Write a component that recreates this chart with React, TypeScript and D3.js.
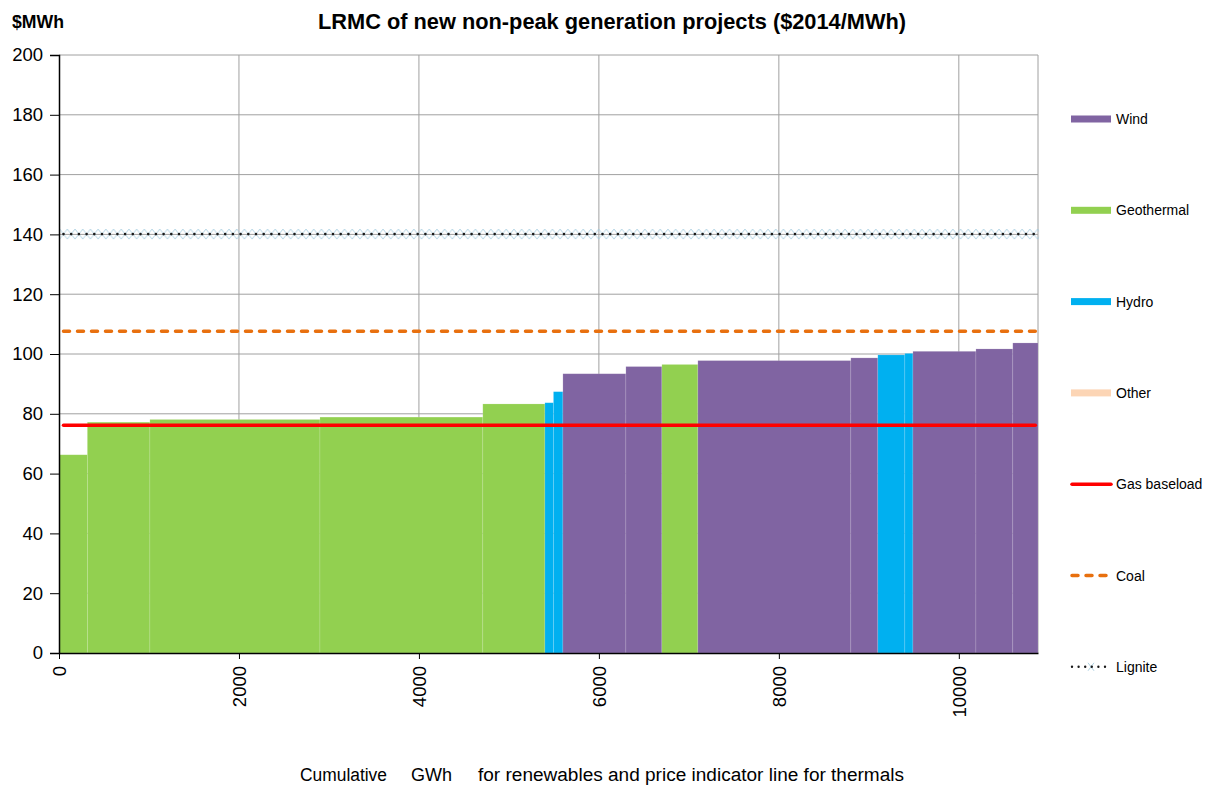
import * as d3 from 'd3';
import { useRef, useEffect } from 'react';

// supply curve blocks (cumulative GWh at block end, LRMC $/MWh)
const blockTech = ['Geothermal', 'Geothermal', 'Geothermal', 'Geothermal', 'Geothermal', 'Hydro', 'Hydro', 'Wind', 'Wind', 'Geothermal', 'Wind', 'Wind', 'Hydro', 'Hydro', 'Wind', 'Wind', 'Wind'];
const blockEnd = [315, 1010, 2900, 4710, 5400, 5495, 5600, 6300, 6700, 7100, 8800, 9100, 9400, 9490, 10190, 10600, 10880];
const blockCost = [66.3, 77.2, 78.1, 78.9, 83.3, 83.7, 87.4, 93.4, 95.8, 96.5, 97.8, 98.7, 99.7, 100.2, 100.9, 101.7, 103.7];

// thermal price indicator lines
const thermalNames = ['Gas baseload', 'Coal', 'Lignite'];
const thermalPrice = [76.2, 107.6, 140.1];
const thermalSpan = [50, 10850];

const legendNames = ['Wind', 'Geothermal', 'Hydro', 'Other', 'Gas baseload', 'Coal', 'Lignite'];
const yTicks = [0, 20, 40, 60, 80, 100, 120, 140, 160, 180, 200];
const xTicks = [0, 2000, 4000, 6000, 8000, 10000];

const colors: Record<string, string> = {
    Wind: '#8064A2',
    Geothermal: '#92D050',
    Hydro: '#00B0F0',
    Other: '#FCD5B5',
    'Gas baseload': '#FF0000',
    Coal: '#E8700F',
    Lignite: '#1a1a1a',
};

const font = "'Liberation Sans', Arial, sans-serif";

export default function App() {
    const svgRef = useRef<SVGSVGElement>(null);

    useEffect(() => {
        document.body.style.margin = '0';
        if (!svgRef.current) return;
        const svg = d3.select(svgRef.current);
        svg.selectAll('*').remove();

        const left = 59, right = 1038, top = 55, bottom = 653;
        const x = d3.scaleLinear().domain([0, 10880]).range([left, right]);
        const y = d3.scaleLinear().domain([0, 200]).range([bottom, top]);

        const defs = svg.append('defs');
        const pat = defs.append('pattern')
            .attr('id', 'ligx')
            .attr('patternUnits', 'userSpaceOnUse')
            .attr('width', 7.7).attr('height', 10)
            .attr('x', x(thermalSpan[0]) - 3.85).attr('y', y(thermalPrice[2]) - 5);
        pat.append('path')
            .attr('d', 'M0,0 L7.7,10 M0,10 L7.7,0')
            .attr('stroke', '#9cc8dc').attr('stroke-width', 0.8).attr('fill', 'none');

        // gridlines
        const grid = svg.append('g');
        yTicks.forEach(t => {
            grid.append('line')
                .attr('x1', left).attr('x2', right)
                .attr('y1', y(t)).attr('y2', y(t))
                .attr('stroke', '#a0a0a0').attr('stroke-width', 1);
        });
        xTicks.filter(t => t > 0).forEach(t => {
            grid.append('line')
                .attr('x1', x(t)).attr('x2', x(t))
                .attr('y1', top).attr('y2', bottom)
                .attr('stroke', '#a0a0a0').attr('stroke-width', 1);
        });
        grid.append('line')
            .attr('x1', right).attr('x2', right).attr('y1', top).attr('y2', bottom)
            .attr('stroke', '#a0a0a0');

        // blocks
        const blocks = blockEnd.map((end, i) => ({
            start: i === 0 ? 0 : blockEnd[i - 1],
            end,
            cost: blockCost[i],
            tech: blockTech[i],
        }));
        svg.append('g')
            .selectAll('rect')
            .data(blocks)
            .enter()
            .append('rect')
            .attr('x', d => x(d.start))
            .attr('y', d => y(d.cost))
            .attr('width', d => x(d.end) - x(d.start))
            .attr('height', d => y(0) - y(d.cost))
            .attr('fill', d => colors[d.tech])
            .attr('stroke', 'rgba(255,255,255,0.2)')
            .attr('stroke-width', 0.7);

        // thermal lines
        const lines = svg.append('g');
        lines.append('rect')
            .attr('x', x(thermalSpan[0]) - 3.85)
            .attr('y', y(thermalPrice[2]) - 5)
            .attr('width', x(thermalSpan[1]) - x(thermalSpan[0]) + 7.7)
            .attr('height', 10)
            .attr('fill', 'url(#ligx)');
        thermalNames.forEach((name, i) => {
            const l = lines.append('line')
                .attr('x1', x(thermalSpan[0])).attr('x2', x(thermalSpan[1]))
                .attr('y1', y(thermalPrice[i])).attr('y2', y(thermalPrice[i]))
                .attr('stroke', colors[name])
                .attr('stroke-linecap', 'round');
            if (name === 'Gas baseload') l.attr('stroke-width', 3.5);
            if (name === 'Coal') l.attr('stroke-width', 3.5).attr('stroke-dasharray', '6,8');
            if (name === 'Lignite') l.attr('stroke-width', 2.6).attr('stroke-dasharray', '0,7.7');
        });

        // axes
        const yAxis = svg.append('g')
            .attr('transform', `translate(${left},0)`)
            .call(d3.axisLeft(y).tickValues(yTicks).tickSize(9).tickPadding(7).tickFormat(d3.format('d')));
        yAxis.select('.domain').attr('stroke', '#000').attr('stroke-width', 1.5);
        yAxis.selectAll('text').attr('font-family', font).attr('font-size', 18.5).attr('fill', '#000');

        const xAxis = svg.append('g')
            .attr('transform', `translate(0,${bottom})`)
            .call(d3.axisBottom(x).tickValues(xTicks).tickSize(6).tickSizeOuter(0).tickFormat(d3.format('d')));
        xAxis.select('.domain').attr('stroke', '#000').attr('stroke-width', 1.5);
        xAxis.selectAll('text')
            .attr('font-family', font).attr('font-size', 18.5).attr('fill', '#000')
            .attr('transform', 'rotate(-90)')
            .attr('text-anchor', 'end')
            .attr('x', -13).attr('y', 0).attr('dy', '0.35em');

        // titles
        svg.append('text')
            .attr('x', 318).attr('y', 29)
            .attr('font-family', font).attr('font-size', 22.5).attr('font-weight', 'bold')
            .attr('textLength', 588).attr('lengthAdjust', 'spacingAndGlyphs')
            .text('LRMC of new non-peak generation projects ($2014/MWh)');
        svg.append('text')
            .attr('x', 12).attr('y', 28)
            .attr('font-family', font).attr('font-size', 17.5).attr('font-weight', 'bold')
            .attr('textLength', 52).attr('lengthAdjust', 'spacingAndGlyphs')
            .text('$MWh');

        const xt = svg.append('g')
            .attr('font-family', font)
            .attr('font-size', 18);
        xt.append('text').attr('x', 300).attr('y', 781).attr('textLength', 87).attr('lengthAdjust', 'spacingAndGlyphs').text('Cumulative');
        xt.append('text').attr('x', 411).attr('y', 781).attr('textLength', 41).attr('lengthAdjust', 'spacingAndGlyphs').text('GWh');
        xt.append('text').attr('x', 478).attr('y', 781).attr('textLength', 426).attr('lengthAdjust', 'spacingAndGlyphs').text('for renewables and price indicator line for thermals');

        // legend
        const lg = svg.append('g');
        legendNames.forEach((name, i) => {
            const cy = 119 + i * 91.3;
            const g = lg.append('g');
            if (i < 4) {
                g.append('rect').attr('x', 1071).attr('y', cy - 3.5).attr('width', 40).attr('height', 7)
                    .attr('fill', colors[name]);
            } else {
                if (name === 'Lignite') {
                    g.append('path').attr('d', `M${1088},${cy - 4} l6,8 M${1088},${cy + 4} l6,-8`)
                        .attr('stroke', '#9cc8dc').attr('stroke-width', 0.8);
                }
                const l = g.append('line').attr('x1', 1072).attr('x2', 1111).attr('y1', cy).attr('y2', cy)
                    .attr('stroke', colors[name]).attr('stroke-linecap', 'round');
                if (name === 'Gas baseload') l.attr('stroke-width', 3.5);
                if (name === 'Coal') l.attr('stroke-width', 3.5).attr('stroke-dasharray', '6,8');
                if (name === 'Lignite') l.attr('stroke-width', 2.4).attr('stroke-dasharray', '0,6.6');
            }
            g.append('text').attr('x', 1116).attr('y', cy + 5)
                .attr('font-family', font).attr('font-size', 14).attr('fill', '#000')
                .text(name);
        });
    }, []);

    return <svg ref={svgRef} width={1216} height={787} style={{ display: 'block', background: '#fff' }} />;
}
